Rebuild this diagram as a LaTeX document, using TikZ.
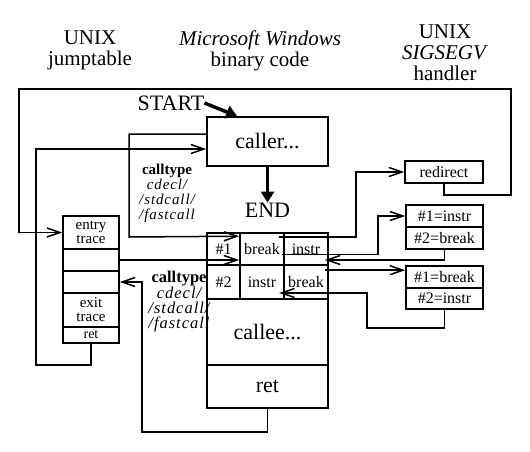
\documentclass[tikz,border=0pt]{standalone}
\usepackage{fontspec}
\setmainfont{Liberation Serif}
\usepackage{tikz}
\usetikzlibrary{arrows.meta}
\newcommand{\titletxt}{\fontsize{21}{21}\selectfont}
\newcommand{\bigtxt}{\fontsize{22}{22}\selectfont}
\newcommand{\celltxt}{\fontsize{16}{14}\selectfont}
\newcommand{\calltxt}{\fontsize{15}{15}\selectfont}
\newcommand{\ctxt}[1]{{\itshape\addfontfeatures{LetterSpace=6}#1}}
\tikzset{
  box/.style={draw, line width=1.6pt, inner sep=0pt, align=center, font=\celltxt},
  wire/.style={line width=1.5pt},
  bigarrow/.style={line width=3.5pt, -{Triangle[length=11pt,width=13pt]}},
}

\begin{document}
\begin{tikzpicture}[x=1pt, y=-1pt, >={Straight Barb[length=13pt,width=9pt]}]
          \useasboundingbox (0,0) rectangle (530,451);
          \node[align=center, font=\titletxt, inner sep=0pt, anchor=north] (tunix) at (90,31) {UNIX\\jumptable};
          \node[align=center, font=\titletxt, inner sep=0pt, anchor=north] (twin) at (260,31) {\textit{Microsoft Windows}\\binary code};
          \node[align=center, font=\titletxt, inner sep=0pt, anchor=north] (tsig) at (445,25) {UNIX\\\textit{SIGSEGV}\\handler};
          \node[font=\bigtxt, inner sep=0pt] (start) at (171,103) {START};
          \node[box, font=\bigtxt, minimum width=121, minimum height=49] (caller) at (267.5,141.5) {caller...};
          \node[font=\bigtxt, inner sep=0pt] (endlbl) at (267.5,210) {END};
          \draw[bigarrow] (start.east) -- ([xshift=31pt]caller.north west);
          \draw[bigarrow] (caller.south) -- (endlbl.north);
          \node[box, font=\fontsize{15}{14}\selectfont, minimum width=56, minimum height=33] (jentry) at (91,232.5) {entry\\trace};
          \node[box, minimum width=56, minimum height=22] (jfree1) at (91,260) {};
          \node[box, minimum width=56, minimum height=22] (jfree2) at (91,282) {};
          \node[box, font=\fontsize{15}{14}\selectfont, minimum width=56, minimum height=34] (jexit) at (91,310) {exit\\trace};
          \node[box, minimum width=56, minimum height=16, font=\fontsize{14}{14}\selectfont] (jret) at (91,335) {ret};
          \node[box, minimum width=33, minimum height=32] (num1) at (223.5,249) {\#1};
          \node[box, minimum width=44, minimum height=32] (brk1) at (262,249) {break};
          \node[box, minimum width=44, minimum height=32] (ins1) at (306,249) {instr};
          \node[box, minimum width=33, minimum height=34] (num2) at (223.5,282) {\#2};
          \node[box, minimum width=44, minimum height=34] (ins2) at (262,282) {instr};
          \node[box, minimum width=44, minimum height=34] (brk2) at (306,282) {break};
          \node[box, font=\bigtxt, minimum width=121, minimum height=66] (callee) at (267.5,332) {callee...};
          \node[box, font=\bigtxt, minimum width=121, minimum height=43] (cret) at (267.5,386.5) {ret};
          \node[box, minimum width=78, minimum height=22] (redirect) at (444,172) {redirect};
          \node[box, minimum width=77, minimum height=22] (s1a) at (444.5,216) {\#1=instr};
          \node[box, minimum width=77, minimum height=22] (s1b) at (444.5,238) {\#2=break};
          \node[box, minimum width=77, minimum height=22] (s2a) at (444.5,277) {\#1=break};
          \node[box, minimum width=77, minimum height=21] (s2b) at (444.5,298.5) {\#2=instr};
          \node[align=center, font=\calltxt, inner sep=0pt] (ctype1) at (167,193) {\textbf{calltype}\\\ctxt{cdecl/}\\\ctxt{/stdcall/}\\\ctxt{/fastcall}};
          \node[align=center, font=\fontsize{16.5}{15}\selectfont, inner sep=0pt] (ctype2) at (179,302) {\textbf{calltype}\\\ctxt{cdecl/}\\\ctxt{/stdcall/}\\\ctxt{/fastcall}};
          \draw[wire,->] (redirect.south) -- ++(0,11) -| (511,89) -| (19,233) |- (jentry.west);
          \draw[wire,->] (jret.south) -- ++(0,21) -| (36,149) -- ([yshift=-7.5pt]caller.west);
          \draw[wire,->] ([yshift=7.5pt]caller.west) -| (129,237) -- ([yshift=-4pt]brk1.north west);
          \draw[wire,->] (jfree1.east) -- (jfree1.east -| brk1.west);
          \draw[wire,->] (cret.south) -- ++(0,23) -| (142,282) -- (jfree2.east);
          \draw[wire,->] ([xshift=-4pt,yshift=-5pt]ins1.north west) -| (356,172) -- (redirect.west);
          \draw[wire,->] ([xshift=-1pt,yshift=-5.5pt]ins1.west) -| (378,216) -- (s1a.west);
          \draw[wire,->] (s1b.south) |- ([xshift=-4pt,yshift=-11pt]ins1.east);
          \draw[wire,->] ([xshift=-4pt,yshift=-6pt]brk2.north east) -- ([yshift=-5pt]s2a.north west);
          \draw[wire,->] (s2b.south) -- ++(0,18) -| (367,293) -- ([xshift=-4pt,yshift=-11pt]brk2.west);
        \end{tikzpicture}
\end{document}
